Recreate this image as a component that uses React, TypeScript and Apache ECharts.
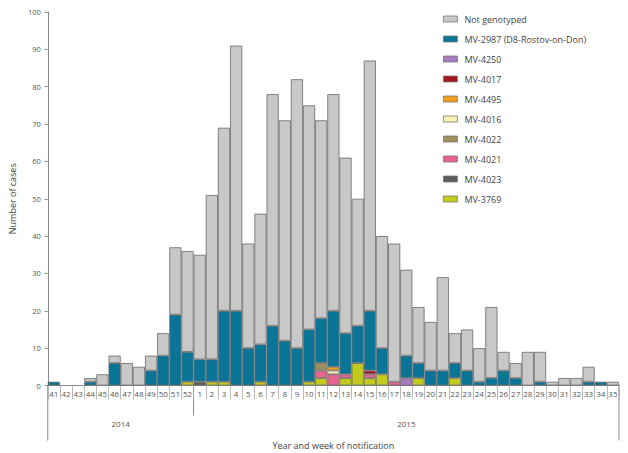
import React, { useEffect, useRef } from "react";
import * as echarts from "echarts";

const weeks = [
  "41", "42", "43", "44", "45", "46", "47", "48", "49", "50", "51", "52",
  "1", "2", "3", "4", "5", "6", "7", "8", "9", "10", "11", "12", "13", "14", "15", "16", "17", "18",
  "19", "20", "21", "22", "23", "24", "25", "26", "27", "28", "29", "30", "31", "32", "33", "34", "35",
];
const yearLabels = ["2014", "2015"];
const yearWeekCounts = [12, 35];

const notGenotyped = [
  0, 0, 0, 1, 3, 2, 6, 5, 4, 6, 18, 27,
  28, 44, 49, 71, 28, 35, 62, 59, 72, 60, 53, 58, 47, 34, 67, 30, 37, 23,
  15, 13, 25, 8, 11, 9, 19, 5, 4, 9, 8, 1, 2, 2, 4, 0, 1,
];
const mv2987 = [
  1, 0, 0, 1, 0, 6, 0, 0, 4, 8, 19, 8,
  6, 6, 19, 20, 10, 10, 16, 12, 10, 14, 12, 15, 11, 10, 16, 7, 0, 6,
  4, 4, 4, 4, 4, 1, 2, 4, 2, 0, 1, 0, 0, 0, 1, 1, 0,
];
const mv4250 = [
  0, 0, 0, 0, 0, 0, 0, 0, 0, 0, 0, 0,
  0, 0, 0, 0, 0, 0, 0, 0, 0, 0, 0, 0, 0, 0, 0, 0, 0, 2,
  0, 0, 0, 0, 0, 0, 0, 0, 0, 0, 0, 0, 0, 0, 0, 0, 0,
];
const mv4017 = [
  0, 0, 0, 0, 0, 0, 0, 0, 0, 0, 0, 0,
  0, 0, 0, 0, 0, 0, 0, 0, 0, 0, 0, 0, 0, 0, 1, 0, 0, 0,
  0, 0, 0, 0, 0, 0, 0, 0, 0, 0, 0, 0, 0, 0, 0, 0, 0,
];
const mv4495 = [
  0, 0, 0, 0, 0, 0, 0, 0, 0, 0, 0, 0,
  0, 0, 0, 0, 0, 0, 0, 0, 0, 0, 0, 1, 0, 0, 0, 0, 0, 0,
  0, 0, 0, 0, 0, 0, 0, 0, 0, 0, 0, 0, 0, 0, 0, 0, 0,
];
const mv4016 = [
  0, 0, 0, 0, 0, 0, 0, 0, 0, 0, 0, 0,
  0, 0, 0, 0, 0, 0, 0, 0, 0, 0, 0, 1, 0, 0, 0, 0, 0, 0,
  0, 0, 0, 0, 0, 0, 0, 0, 0, 0, 0, 0, 0, 0, 0, 0, 0,
];
const mv4022 = [
  0, 0, 0, 0, 0, 0, 0, 0, 0, 0, 0, 0,
  0, 0, 0, 0, 0, 0, 0, 0, 0, 0, 2, 0, 0, 0, 0, 0, 0, 0,
  0, 0, 0, 0, 0, 0, 0, 0, 0, 0, 0, 0, 0, 0, 0, 0, 0,
];
const mv4021 = [
  0, 0, 0, 0, 0, 0, 0, 0, 0, 0, 0, 0,
  0, 0, 0, 0, 0, 0, 0, 0, 0, 0, 2, 3, 1, 0, 1, 0, 1, 0,
  0, 0, 0, 0, 0, 0, 0, 0, 0, 0, 0, 0, 0, 0, 0, 0, 0,
];
const mv4023 = [
  0, 0, 0, 0, 0, 0, 0, 0, 0, 0, 0, 0,
  1, 0, 0, 0, 0, 0, 0, 0, 0, 0, 0, 0, 0, 0, 0, 0, 0, 0,
  0, 0, 0, 0, 0, 0, 0, 0, 0, 0, 0, 0, 0, 0, 0, 0, 0,
];
const mv3769 = [
  0, 0, 0, 0, 0, 0, 0, 0, 0, 0, 0, 1,
  0, 1, 1, 0, 0, 1, 0, 0, 0, 1, 2, 0, 2, 6, 2, 3, 0, 0,
  2, 0, 0, 2, 0, 0, 0, 0, 0, 0, 0, 0, 0, 0, 0, 0, 0,
];

const legendOrder = [
  "Not genotyped", "MV-2987 (D8-Rostov-on-Don)", "MV-4250", "MV-4017", "MV-4495",
  "MV-4016", "MV-4022", "MV-4021", "MV-4023", "MV-3769",
];

// bottom-to-top stacking order
const stackSeries: { name: string; data: number[]; color: string }[] = [
  { name: "MV-3769", data: mv3769, color: "#c2cb1c" },
  { name: "MV-4023", data: mv4023, color: "#5b5b5b" },
  { name: "MV-4021", data: mv4021, color: "#e8648e" },
  { name: "MV-4022", data: mv4022, color: "#9e8f5e" },
  { name: "MV-4016", data: mv4016, color: "#fcf1b6" },
  { name: "MV-4495", data: mv4495, color: "#f0a01e" },
  { name: "MV-4017", data: mv4017, color: "#a3191f" },
  { name: "MV-4250", data: mv4250, color: "#a77cbf" },
  { name: "MV-2987 (D8-Rostov-on-Don)", data: mv2987, color: "#0b7597" },
  { name: "Not genotyped", data: notGenotyped, color: "#c8c8c8" },
];

const FONT = "'Open Sans', 'DejaVu Sans', sans-serif";

export default function App() {
  const ref = useRef<HTMLDivElement>(null);
  useEffect(() => {
    document.body.style.margin = "0";
    if (!ref.current) return;
    const chart = echarts.init(ref.current, undefined, { renderer: "svg" });
    const option: any = {
      animation: false,
      backgroundColor: "#ffffff",
      textStyle: { fontFamily: FONT },
      grid: { left: 41, right: 9, top: 12, bottom: 67.5, containLabel: false },
      legend: {
        orient: "vertical",
        left: 438,
        top: 8,
        itemWidth: 14,
        itemHeight: 6,
        itemGap: 8,
        icon: "rect",
        data: legendOrder,
        selectedMode: false,
        textStyle: { fontSize: 9, color: "#444", fontFamily: FONT, lineHeight: 12, padding: [0, 0, 0, 2] },
        itemStyle: { borderColor: "#777", borderWidth: 0.8 },
      },
      xAxis: {
        type: "category",
        data: weeks,
        boundaryGap: true,
        axisLine: { show: true, lineStyle: { color: "#888", width: 1 } },
        axisTick: { show: true, interval: 0, length: 14, lineStyle: { color: "#aaa", width: 0.8 } },
        axisLabel: { interval: 0, fontSize: 8, color: "#555", margin: 4, fontFamily: FONT },
      },
      yAxis: {
        type: "value",
        min: 0,
        max: 100,
        interval: 10,
        name: "Number of cases",
        nameLocation: "middle",
        nameGap: 25,
        nameTextStyle: { fontSize: 9, color: "#444", fontFamily: FONT },
        axisLine: { show: true, lineStyle: { color: "#888", width: 1 } },
        axisTick: { show: true, length: 3, lineStyle: { color: "#888" } },
        axisLabel: { fontSize: 7.5, color: "#555", margin: 7, fontFamily: FONT },
        splitLine: { show: false },
      },
      series: stackSeries.map((s) => ({
        name: s.name,
        type: "bar",
        stack: "total",
        barCategoryGap: "0%",
        data: s.data.map((v) => (v === 0 ? null : v)),
        itemStyle: { color: s.color, borderColor: "#6a6a6a", borderWidth: 0.8 },
        emphasis: { disabled: true },
      })),
    };
    chart.setOption(option);

    const x0 = chart.convertToPixel({ xAxisIndex: 0 }, 0) as number;
    const x1 = chart.convertToPixel({ xAxisIndex: 0 }, 1) as number;
    const band = x1 - x0;
    const yZero = chart.convertToPixel({ yAxisIndex: 0 }, 0) as number;
    const boundary = (i: number) => x0 + (i - 0.5) * band;
    const leftEdge = boundary(0);
    const splitIdx = yearWeekCounts[0];
    const midEdge = boundary(splitIdx);
    const rightEdge = boundary(weeks.length);
    const lineStyle = { stroke: "#888", lineWidth: 1 };
    chart.setOption({
      graphic: [
        { type: "line", shape: { x1: leftEdge, y1: yZero, x2: leftEdge, y2: yZero + 55 }, style: lineStyle, silent: true },
        { type: "line", shape: { x1: midEdge, y1: yZero, x2: midEdge, y2: yZero + 30 }, style: lineStyle, silent: true },
        { type: "line", shape: { x1: rightEdge, y1: yZero, x2: rightEdge, y2: yZero + 55 }, style: lineStyle, silent: true },
        {
          type: "text",
          x: (leftEdge + midEdge) / 2,
          y: yZero + 38,
          style: { text: yearLabels[0], fontSize: 8, fill: "#555", fontFamily: FONT, textAlign: "center", textVerticalAlign: "middle" },
          silent: true,
        },
        {
          type: "text",
          x: (midEdge + rightEdge) / 2,
          y: yZero + 38,
          style: { text: yearLabels[1], fontSize: 8, fill: "#555", fontFamily: FONT, textAlign: "center", textVerticalAlign: "middle" },
          silent: true,
        },
        {
          type: "text",
          x: (leftEdge + rightEdge) / 2,
          y: yZero + 60,
          style: { text: "Year and week of notification", fontSize: 9, fill: "#444", fontFamily: FONT, textAlign: "center", textVerticalAlign: "middle" },
          silent: true,
        },
      ],
    });
    return () => chart.dispose();
  }, []);
  return <div ref={ref} style={{ width: 628, height: 453 }} />;
}
